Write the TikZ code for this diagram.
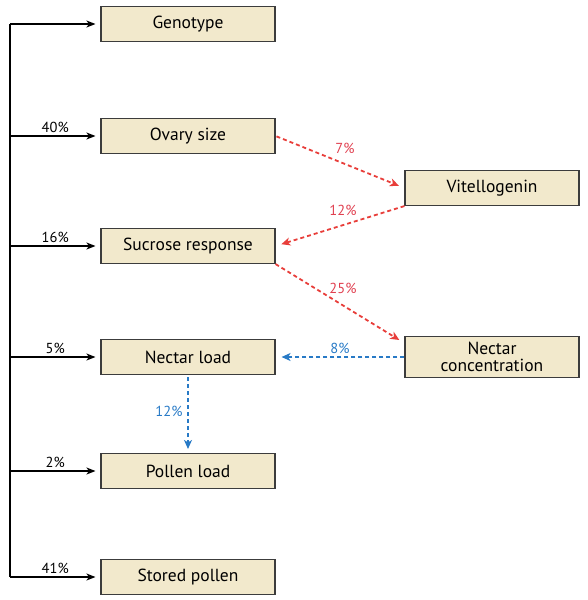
\documentclass[tikz,border=0pt]{standalone}
\usepackage{fontspec}
\setmainfont{PT Sans}
\usepackage{tikz}
\usetikzlibrary{arrows.meta}
\definecolor{boxfill}{RGB}{242,233,204}
\definecolor{boxline}{RGB}{60,60,60}
\definecolor{pathred}{RGB}{232,62,58}
\definecolor{labelred}{RGB}{224,64,80}
\definecolor{pathblue}{RGB}{40,122,198}

\tikzset{
	trait/.style={draw=boxline, fill=boxfill, line width=1.1pt, minimum width=174pt, minimum height=35pt, inner sep=0pt, font=\fontsize{17.5}{17}\selectfont, align=center},
	link/.style={line width=1.6pt, -{Stealth[length=9pt, width=7pt, inset=2.5pt]}, black},
	redlink/.style={line width=1.8pt, -{Stealth[length=9pt, width=8pt, inset=2.5pt]}, pathred, dash pattern=on 4pt off 3pt},
	bluelink/.style={line width=1.8pt, -{Stealth[length=9pt, width=8pt, inset=2.5pt]}, pathblue, dash pattern=on 4pt off 3pt},
	pct/.style={font=\fontsize{14.5}{14.5}\selectfont, inner sep=1pt}
}

\begin{document}
\begin{tikzpicture}[x=1pt, y=-1pt]

		\useasboundingbox (0,0) rectangle (588,600);

		% left column of traits
		\node[trait] (genotype) at (188,24) {Genotype};
		\node[trait] (ovary) at (188,136) {Ovary size};
		\node[trait] (sucrose) at (188,246) {Sucrose response};
		\node[trait] (nload) at (188,357) {Nectar load};
		\node[trait] (pload) at (188,471) {Pollen load};
		\node[trait] (stored) at (188,577) {Stored pollen};

		% right column
		\node[trait, font=\fontsize{17.5}{16.5}\selectfont] (vitello) at (492,188) {Vitellogenin};
		\node[trait, minimum height=41pt, font=\fontsize{17.5}{16.5}\selectfont] (nconc) at (492,357) {Nectar\\concentration};

		% genotype trunk
		\coordinate (trunktop) at (10,24);
		\coordinate (trunkbot) at (10,577);
		\draw[line width=1.6pt] (trunktop) -- (trunkbot);

		\draw[link, shorten >=5pt] (trunktop) -- (genotype.west);
		\draw[link, shorten >=5pt] (ovary.west -| trunktop) -- node[pct, above=2pt] {40\%} (ovary.west);
		\draw[link, shorten >=5pt] (sucrose.west -| trunktop) -- node[pct, above=2pt] {16\%} (sucrose.west);
		\draw[link, shorten >=5pt] (nload.west -| trunktop) -- node[pct, above=2pt] {5\%} (nload.west);
		\draw[link, shorten >=5pt] (pload.west -| trunktop) -- node[pct, above=2pt] {2\%} (pload.west);
		\draw[link, shorten >=5pt] (trunkbot) -- node[pct, above=2pt] {41\%} (stored.west);

		% red paths
		\draw[redlink, shorten <=1pt, shorten >=6pt] (ovary.east) -- (vitello.west);
		\draw[redlink, shorten >=6pt] (vitello.south west) -- (sucrose.east);
		\draw[redlink, shorten >=6pt] (sucrose.south east) -- (nconc.171);

		\node[pct, text=labelred] (p7) at (345,148) {7\%};
		\node[pct, text=labelred] (p12a) at (343,210) {12\%};
		\node[pct, text=labelred] (p25) at (343,288) {25\%};

		% blue paths
		\draw[bluelink, shorten >=6pt] (nconc.west) -- node[pct, above=1pt, text=pathblue] {8\%} (nload.east);
		\draw[bluelink, shorten <=2pt, shorten >=4pt] (nload.south) -- (pload.north);
		\node[pct, text=pathblue] (p12b) at (169,411) {12\%};

\end{tikzpicture}
\end{document}
